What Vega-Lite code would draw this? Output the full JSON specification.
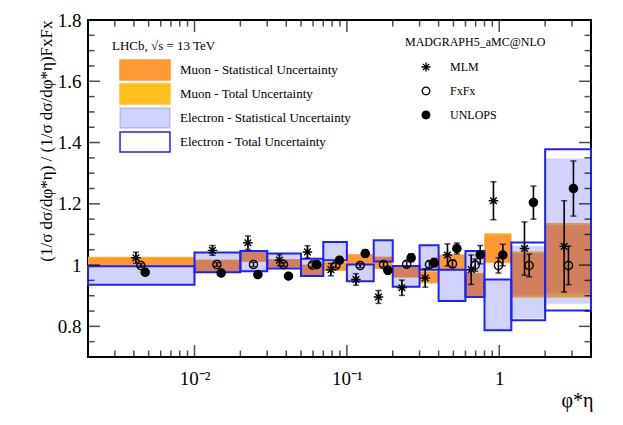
{
  "$schema": "https://vega.github.io/schema/vega-lite/v6.json",
  "width": 503,
  "height": 337,
  "autosize": {"type": "none"},
  "padding": {"left": 88, "top": 20, "right": 32, "bottom": 68},
  "config": {
    "view": {"stroke": "black", "strokeWidth": 2},
    "font": "Liberation Serif",
    "axis": {
      "grid": false,
      "domain": false,
      "ticks": false,
      "labelColor": "black",
      "titleColor": "black",
      "labelFont": "Liberation Serif",
      "titleFont": "Liberation Serif",
      "titleFontWeight": "normal"
    },
    "legend": {
      "titleFont": "Liberation Serif",
      "labelFont": "Liberation Serif",
      "titleFontWeight": "normal",
      "labelFontWeight": "normal",
      "titleColor": "black",
      "labelColor": "black",
      "labelLimit": 300,
      "padding": 0
    }
  },
  "datasets": {
    "bands": [
      {"lo": 0.002, "hi": 0.01, "band": "mu_tot", "ylo": 0.994, "yhi": 1.027},
      {"lo": 0.002, "hi": 0.01, "band": "mu_stat", "ylo": 0.996, "yhi": 1.025},
      {"lo": 0.002, "hi": 0.01, "band": "e_stat", "ylo": 0.936, "yhi": 0.996},
      {"lo": 0.002, "hi": 0.01, "band": "e_tot", "ylo": 0.936, "yhi": 0.996},
      {"lo": 0.01, "hi": 0.02, "band": "mu_tot", "ylo": 0.975, "yhi": 1.018},
      {"lo": 0.01, "hi": 0.02, "band": "mu_stat", "ylo": 0.977, "yhi": 1.016},
      {"lo": 0.01, "hi": 0.02, "band": "e_stat", "ylo": 0.977, "yhi": 1.041},
      {"lo": 0.01, "hi": 0.02, "band": "e_tot", "ylo": 0.977, "yhi": 1.041},
      {"lo": 0.02, "hi": 0.03, "band": "mu_tot", "ylo": 1.010, "yhi": 1.045},
      {"lo": 0.02, "hi": 0.03, "band": "mu_stat", "ylo": 1.012, "yhi": 1.043},
      {"lo": 0.02, "hi": 0.03, "band": "e_stat", "ylo": 0.980, "yhi": 1.046},
      {"lo": 0.02, "hi": 0.03, "band": "e_tot", "ylo": 0.980, "yhi": 1.046},
      {"lo": 0.03, "hi": 0.05, "band": "mu_tot", "ylo": 0.992, "yhi": 1.020},
      {"lo": 0.03, "hi": 0.05, "band": "mu_stat", "ylo": 0.994, "yhi": 1.018},
      {"lo": 0.03, "hi": 0.05, "band": "e_stat", "ylo": 0.989, "yhi": 1.038},
      {"lo": 0.03, "hi": 0.05, "band": "e_tot", "ylo": 0.989, "yhi": 1.038},
      {"lo": 0.05, "hi": 0.07, "band": "mu_tot", "ylo": 0.964, "yhi": 1.002},
      {"lo": 0.05, "hi": 0.07, "band": "mu_stat", "ylo": 0.966, "yhi": 1.000},
      {"lo": 0.05, "hi": 0.07, "band": "e_stat", "ylo": 0.964, "yhi": 1.021},
      {"lo": 0.05, "hi": 0.07, "band": "e_tot", "ylo": 0.964, "yhi": 1.021},
      {"lo": 0.07, "hi": 0.1, "band": "mu_tot", "ylo": 0.981, "yhi": 1.011},
      {"lo": 0.07, "hi": 0.1, "band": "mu_stat", "ylo": 0.983, "yhi": 1.009},
      {"lo": 0.07, "hi": 0.1, "band": "e_stat", "ylo": 1.016, "yhi": 1.075},
      {"lo": 0.07, "hi": 0.1, "band": "e_tot", "ylo": 1.016, "yhi": 1.075},
      {"lo": 0.1, "hi": 0.15, "band": "mu_tot", "ylo": 1.000, "yhi": 1.036},
      {"lo": 0.1, "hi": 0.15, "band": "mu_stat", "ylo": 1.002, "yhi": 1.034},
      {"lo": 0.1, "hi": 0.15, "band": "e_stat", "ylo": 0.947, "yhi": 1.002},
      {"lo": 0.1, "hi": 0.15, "band": "e_tot", "ylo": 0.947, "yhi": 1.002},
      {"lo": 0.15, "hi": 0.2, "band": "mu_tot", "ylo": 0.987, "yhi": 1.028},
      {"lo": 0.15, "hi": 0.2, "band": "mu_stat", "ylo": 0.989, "yhi": 1.026},
      {"lo": 0.15, "hi": 0.2, "band": "e_stat", "ylo": 1.012, "yhi": 1.081},
      {"lo": 0.15, "hi": 0.2, "band": "e_tot", "ylo": 1.012, "yhi": 1.081},
      {"lo": 0.2, "hi": 0.3, "band": "mu_tot", "ylo": 0.959, "yhi": 0.999},
      {"lo": 0.2, "hi": 0.3, "band": "mu_stat", "ylo": 0.961, "yhi": 0.997},
      {"lo": 0.2, "hi": 0.3, "band": "e_stat", "ylo": 0.929, "yhi": 0.997},
      {"lo": 0.2, "hi": 0.3, "band": "e_tot", "ylo": 0.929, "yhi": 0.997},
      {"lo": 0.3, "hi": 0.4, "band": "mu_tot", "ylo": 0.940, "yhi": 0.980},
      {"lo": 0.3, "hi": 0.4, "band": "mu_stat", "ylo": 0.942, "yhi": 0.978},
      {"lo": 0.3, "hi": 0.4, "band": "e_stat", "ylo": 0.985, "yhi": 1.065},
      {"lo": 0.3, "hi": 0.4, "band": "e_tot", "ylo": 0.985, "yhi": 1.065},
      {"lo": 0.4, "hi": 0.6, "band": "mu_tot", "ylo": 0.983, "yhi": 1.035},
      {"lo": 0.4, "hi": 0.6, "band": "mu_stat", "ylo": 0.985, "yhi": 1.033},
      {"lo": 0.4, "hi": 0.6, "band": "e_stat", "ylo": 0.883, "yhi": 0.985},
      {"lo": 0.4, "hi": 0.6, "band": "e_tot", "ylo": 0.883, "yhi": 0.985},
      {"lo": 0.6, "hi": 0.8, "band": "mu_tot", "ylo": 0.893, "yhi": 0.975},
      {"lo": 0.6, "hi": 0.8, "band": "mu_stat", "ylo": 0.896, "yhi": 0.972},
      {"lo": 0.6, "hi": 0.8, "band": "e_stat", "ylo": 0.896, "yhi": 1.046},
      {"lo": 0.6, "hi": 0.8, "band": "e_tot", "ylo": 0.896, "yhi": 1.046},
      {"lo": 0.8, "hi": 1.2, "band": "mu_tot", "ylo": 1.006, "yhi": 1.104},
      {"lo": 0.8, "hi": 1.2, "band": "mu_stat", "ylo": 1.010, "yhi": 1.100},
      {"lo": 0.8, "hi": 1.2, "band": "e_stat", "ylo": 0.787, "yhi": 0.953},
      {"lo": 0.8, "hi": 1.2, "band": "e_tot", "ylo": 0.787, "yhi": 0.953},
      {"lo": 1.2, "hi": 2, "band": "mu_tot", "ylo": 0.894, "yhi": 1.044},
      {"lo": 1.2, "hi": 2, "band": "mu_stat", "ylo": 0.901, "yhi": 1.038},
      {"lo": 1.2, "hi": 2, "band": "e_stat", "ylo": 0.826, "yhi": 1.062},
      {"lo": 1.2, "hi": 2, "band": "e_tot", "ylo": 0.820, "yhi": 1.074},
      {"lo": 2, "hi": 4, "band": "mu_tot", "ylo": 0.894, "yhi": 1.137},
      {"lo": 2, "hi": 4, "band": "mu_stat", "ylo": 0.907, "yhi": 1.130},
      {"lo": 2, "hi": 4, "band": "e_stat", "ylo": 0.874, "yhi": 1.348},
      {"lo": 2, "hi": 4, "band": "e_tot", "ylo": 0.852, "yhi": 1.378}
    ],
    "points": [
      {"model": "MLM", "phi": 0.004125, "r": 1.024, "lo": 1.006, "hi": 1.042},
      {"model": "FxFx", "phi": 0.004447, "r": 0.999, "lo": 0.993, "hi": 1.005},
      {"model": "UNLOPS", "phi": 0.004748, "r": 0.977, "lo": 0.970, "hi": 0.984},
      {"model": "MLM", "phi": 0.01312, "r": 1.048, "lo": 1.032, "hi": 1.064},
      {"model": "FxFx", "phi": 0.01403, "r": 1.002, "lo": 0.996, "hi": 1.008},
      {"model": "UNLOPS", "phi": 0.01497, "r": 0.974, "lo": 0.967, "hi": 0.981},
      {"model": "MLM", "phi": 0.0224, "r": 1.073, "lo": 1.051, "hi": 1.095},
      {"model": "FxFx", "phi": 0.02438, "r": 1.002, "lo": 0.995, "hi": 1.009},
      {"model": "UNLOPS", "phi": 0.02606, "r": 0.969, "lo": 0.961, "hi": 0.977},
      {"model": "MLM", "phi": 0.03612, "r": 1.016, "lo": 0.998, "hi": 1.034},
      {"model": "FxFx", "phi": 0.03837, "r": 1.002, "lo": 0.996, "hi": 1.008},
      {"model": "UNLOPS", "phi": 0.04138, "r": 0.964, "lo": 0.957, "hi": 0.971},
      {"model": "MLM", "phi": 0.05513, "r": 1.043, "lo": 1.023, "hi": 1.063},
      {"model": "FxFx", "phi": 0.05944, "r": 1.000, "lo": 0.993, "hi": 1.007},
      {"model": "UNLOPS", "phi": 0.06353, "r": 1.002, "lo": 0.994, "hi": 1.010},
      {"model": "MLM", "phi": 0.07853, "r": 0.985, "lo": 0.965, "hi": 1.005},
      {"model": "FxFx", "phi": 0.08469, "r": 0.999, "lo": 0.992, "hi": 1.006},
      {"model": "UNLOPS", "phi": 0.08941, "r": 1.016, "lo": 1.006, "hi": 1.026},
      {"model": "MLM", "phi": 0.1146, "r": 0.953, "lo": 0.934, "hi": 0.972},
      {"model": "FxFx", "phi": 0.1223, "r": 0.999, "lo": 0.992, "hi": 1.006},
      {"model": "UNLOPS", "phi": 0.1319, "r": 1.038, "lo": 1.026, "hi": 1.050},
      {"model": "MLM", "phi": 0.1612, "r": 0.896, "lo": 0.875, "hi": 0.917},
      {"model": "FxFx", "phi": 0.1739, "r": 1.002, "lo": 0.994, "hi": 1.010},
      {"model": "UNLOPS", "phi": 0.1858, "r": 0.983, "lo": 0.971, "hi": 0.995},
      {"model": "MLM", "phi": 0.2296, "r": 0.926, "lo": 0.901, "hi": 0.951},
      {"model": "FxFx", "phi": 0.2469, "r": 1.003, "lo": 0.994, "hi": 1.012},
      {"model": "UNLOPS", "phi": 0.2642, "r": 1.024, "lo": 1.011, "hi": 1.037},
      {"model": "MLM", "phi": 0.3265, "r": 0.958, "lo": 0.928, "hi": 0.988},
      {"model": "FxFx", "phi": 0.3483, "r": 1.002, "lo": 0.992, "hi": 1.012},
      {"model": "UNLOPS", "phi": 0.3739, "r": 1.008, "lo": 0.994, "hi": 1.022},
      {"model": "MLM", "phi": 0.4571, "r": 1.033, "lo": 0.997, "hi": 1.069},
      {"model": "FxFx", "phi": 0.4931, "r": 1.004, "lo": 0.992, "hi": 1.016},
      {"model": "UNLOPS", "phi": 0.5269, "r": 1.054, "lo": 1.036, "hi": 1.072},
      {"model": "MLM", "phi": 0.6542, "r": 0.985, "lo": 0.937, "hi": 1.033},
      {"model": "FxFx", "phi": 0.695, "r": 1.000, "lo": 0.980, "hi": 1.020},
      {"model": "UNLOPS", "phi": 0.7496, "r": 1.034, "lo": 1.004, "hi": 1.064},
      {"model": "MLM", "phi": 0.9161, "r": 1.210, "lo": 1.148, "hi": 1.272},
      {"model": "FxFx", "phi": 0.988, "r": 0.999, "lo": 0.974, "hi": 1.024},
      {"model": "UNLOPS", "phi": 1.056, "r": 1.033, "lo": 0.998, "hi": 1.068},
      {"model": "MLM", "phi": 1.464, "r": 1.054, "lo": 0.967, "hi": 1.141},
      {"model": "FxFx", "phi": 1.571, "r": 0.999, "lo": 0.962, "hi": 1.036},
      {"model": "UNLOPS", "phi": 1.676, "r": 1.204, "lo": 1.150, "hi": 1.258},
      {"model": "MLM", "phi": 2.666, "r": 1.061, "lo": 0.912, "hi": 1.210},
      {"model": "FxFx", "phi": 2.846, "r": 0.999, "lo": 0.936, "hi": 1.062},
      {"model": "UNLOPS", "phi": 3.068, "r": 1.250, "lo": 1.160, "hi": 1.340}
    ],
    "xticks": [
      {"v": 0.003, "kind": "minor"}, {"v": 0.004, "kind": "minor"}, {"v": 0.005, "kind": "minor"},
      {"v": 0.006, "kind": "minor"}, {"v": 0.007, "kind": "minor"}, {"v": 0.008, "kind": "minor"},
      {"v": 0.009, "kind": "minor"}, {"v": 0.01, "kind": "major"},
      {"v": 0.02, "kind": "minor"}, {"v": 0.03, "kind": "minor"}, {"v": 0.04, "kind": "minor"},
      {"v": 0.05, "kind": "minor"}, {"v": 0.06, "kind": "minor"}, {"v": 0.07, "kind": "minor"},
      {"v": 0.08, "kind": "minor"}, {"v": 0.09, "kind": "minor"}, {"v": 0.1, "kind": "major"},
      {"v": 0.2, "kind": "minor"}, {"v": 0.3, "kind": "minor"}, {"v": 0.4, "kind": "minor"},
      {"v": 0.5, "kind": "minor"}, {"v": 0.6, "kind": "minor"}, {"v": 0.7, "kind": "minor"},
      {"v": 0.8, "kind": "minor"}, {"v": 0.9, "kind": "minor"}, {"v": 1, "kind": "major"},
      {"v": 2, "kind": "minor"}, {"v": 3, "kind": "minor"}
    ],
    "yticks": [
      {"v": 0.75, "kind": "minor"}, {"v": 0.8, "kind": "major"}, {"v": 0.85, "kind": "minor"},
      {"v": 0.9, "kind": "minor"}, {"v": 0.95, "kind": "minor"}, {"v": 1, "kind": "major"},
      {"v": 1.05, "kind": "minor"}, {"v": 1.1, "kind": "minor"}, {"v": 1.15, "kind": "minor"},
      {"v": 1.2, "kind": "major"}, {"v": 1.25, "kind": "minor"}, {"v": 1.3, "kind": "minor"},
      {"v": 1.35, "kind": "minor"}, {"v": 1.4, "kind": "major"}, {"v": 1.45, "kind": "minor"},
      {"v": 1.5, "kind": "minor"}, {"v": 1.55, "kind": "minor"}, {"v": 1.6, "kind": "major"},
      {"v": 1.65, "kind": "minor"}, {"v": 1.7, "kind": "minor"}, {"v": 1.75, "kind": "minor"}
    ]
  },
  "layer": [
    {
      "data": {"name": "bands"},
      "encoding": {
        "x": {
          "field": "lo",
          "type": "quantitative",
          "scale": {"type": "log", "domain": [0.002, 4], "nice": false},
          "axis": {
            "orient": "bottom",
            "values": [0.01, 0.1, 1],
            "labelExpr": "datum.value == 0.01 ? '10⁻²' : datum.value == 0.1 ? '10⁻¹' : '1'",
            "labelFontSize": 19,
            "labelPadding": 12,
            "labelFlush": false,
            "labelOverlap": false,
            "title": "φ*η",
            "titleFontSize": 20,
            "titleX": 505,
            "titleY": 49,
            "titleAlign": "right",
            "titleBaseline": "alphabetic"
          }
        },
        "x2": {"field": "hi"},
        "y": {
          "field": "ylo",
          "type": "quantitative",
          "scale": {"domain": [0.7, 1.8], "nice": false, "zero": false},
          "axis": {
            "orient": "left",
            "values": [0.8, 1, 1.2, 1.4, 1.6, 1.8],
            "labelExpr": "format(datum.value, '~g')",
            "labelFontSize": 19,
            "labelPadding": 7,
            "labelOverlap": false,
            "labelFlush": false,
            "title": "(1/σ dσ/dφ*η) / (1/σ dσ/dφ*η)FxFx",
            "titleFontSize": 17,
            "titleAngle": -90,
            "titleX": -42,
            "titleY": 0,
            "titleAlign": "right",
            "titleBaseline": "middle"
          }
        },
        "y2": {"field": "yhi"},
        "fill": {
          "field": "band",
          "type": "nominal",
          "scale": {
            "domain": ["mu_stat", "mu_tot", "e_stat", "e_tot"],
            "range": ["#ff9933", "#ffbf1f", "rgba(32,32,255,0.2)", "rgba(255,255,255,0)"]
          },
          "legend": {
            "orient": "none",
            "legendX": 24,
            "legendY": 20,
            "title": "LHCb, √s = 13 TeV",
            "titleFontSize": 13,
            "titlePadding": 5,
            "labelFontSize": 13,
            "symbolType": "M-2.22,-0.89H2.22V0.89H-2.22Z",
            "symbolSize": 506,
            "symbolStrokeWidth": 1.5,
            "symbolOffset": 21,
            "labelOffset": 23,
            "clipHeight": 24,
            "rowPadding": 0,
            "labelExpr": "{'mu_stat': 'Muon - Statistical Uncertainty', 'mu_tot': 'Muon - Total Uncertainty', 'e_stat': 'Electron - Statistical Uncertainty', 'e_tot': 'Electron - Total Uncertainty'}[datum.label]"
          }
        },
        "stroke": {
          "field": "band",
          "type": "nominal",
          "scale": {
            "domain": ["mu_stat", "mu_tot", "e_stat", "e_tot"],
            "range": ["#ff9933", "#ffbf1f", "rgba(32,32,255,0.2)", "#2020ff"]
          },
          "legend": {
            "orient": "none",
            "legendX": 24,
            "legendY": 20,
            "title": "LHCb, √s = 13 TeV",
            "titleFontSize": 13,
            "titlePadding": 5,
            "labelFontSize": 13,
            "symbolType": "M-2.22,-0.89H2.22V0.89H-2.22Z",
            "symbolSize": 506,
            "symbolStrokeWidth": 1.5,
            "symbolOffset": 21,
            "labelOffset": 23,
            "clipHeight": 24,
            "rowPadding": 0,
            "labelExpr": "{'mu_stat': 'Muon - Statistical Uncertainty', 'mu_tot': 'Muon - Total Uncertainty', 'e_stat': 'Electron - Statistical Uncertainty', 'e_tot': 'Electron - Total Uncertainty'}[datum.label]"
          }
        }
      },
      "layer": [
        {"transform": [{"filter": "datum.band == 'mu_tot'"}], "mark": {"type": "rect", "strokeWidth": 0}},
        {"transform": [{"filter": "datum.band == 'mu_stat'"}], "mark": {"type": "rect", "strokeWidth": 0}},
        {"transform": [{"filter": "datum.band == 'e_stat'"}], "mark": {"type": "rect", "strokeWidth": 0}},
        {"transform": [{"filter": "datum.band == 'e_tot'"}], "mark": {"type": "rect", "strokeWidth": 2}}
      ]
    },
    {
      "data": {"name": "points"},
      "encoding": {
        "x": {"field": "phi", "type": "quantitative"}
      },
      "layer": [
        {
          "mark": {"type": "rule", "color": "black", "strokeWidth": 1.6},
          "encoding": {
            "y": {"field": "lo", "type": "quantitative"},
            "y2": {"field": "hi"}
          }
        },
        {
          "mark": {"type": "tick", "orient": "horizontal", "color": "black", "size": 6, "thickness": 1.5},
          "encoding": {"y": {"field": "lo", "type": "quantitative"}}
        },
        {
          "mark": {"type": "tick", "orient": "horizontal", "color": "black", "size": 6, "thickness": 1.5},
          "encoding": {"y": {"field": "hi", "type": "quantitative"}}
        },
        {
          "mark": {"type": "point", "filled": true, "color": "black", "strokeWidth": 0, "size": 90, "opacity": 1},
          "encoding": {
            "y": {"field": "r", "type": "quantitative"},
            "shape": {
              "field": "model",
              "type": "nominal",
              "scale": {
                "domain": ["MLM", "FxFx", "UNLOPS"],
                "range": [
                  "M-1,-0.15H1V0.15H-1ZM-0.15,-1H0.15V1H-0.15ZM-0.594,-0.806L0.806,0.594L0.594,0.806L-0.806,-0.594ZM-0.806,0.594L0.594,-0.806L0.806,-0.594L-0.594,0.806Z",
                  "M1,0A1,1,0,1,1,-1,0A1,1,0,1,1,1,0ZM0.72,0A0.72,0.72,0,1,0,-0.72,0A0.72,0.72,0,1,0,0.72,0Z",
                  "M1,0A1,1,0,1,1,-1,0A1,1,0,1,1,1,0Z"
                ]
              },
              "legend": {
                "orient": "none",
                "legendX": 317,
                "legendY": 17,
                "title": "MADGRAPH5_aMC@NLO",
                "titleFontSize": 12,
                "titlePadding": 6,
                "labelFontSize": 12,
                "symbolSize": 80,
                "symbolFillColor": "black",
                "symbolStrokeWidth": 0,
                "symbolOffset": 15,
                "labelOffset": 18,
                "clipHeight": 24,
                "rowPadding": 0
              }
            }
          }
        }
      ]
    },
    {
      "data": {"name": "xticks"},
      "mark": {"type": "tick", "orient": "vertical", "color": "black", "thickness": 1.5, "clip": true},
      "encoding": {
        "x": {"field": "v", "type": "quantitative"},
        "y": {"datum": 0.7, "type": "quantitative"},
        "size": {"field": "kind", "type": "nominal", "scale": {"domain": ["major", "minor"], "range": [24, 13]}, "legend": null}
      }
    },
    {
      "data": {"name": "xticks"},
      "mark": {"type": "tick", "orient": "vertical", "color": "black", "thickness": 1.5, "clip": true},
      "encoding": {
        "x": {"field": "v", "type": "quantitative"},
        "y": {"datum": 1.8, "type": "quantitative"},
        "size": {"field": "kind", "type": "nominal", "scale": {"domain": ["major", "minor"], "range": [24, 13]}, "legend": null}
      }
    },
    {
      "data": {"name": "yticks"},
      "mark": {"type": "tick", "orient": "horizontal", "color": "black", "thickness": 1.5, "clip": true},
      "encoding": {
        "y": {"field": "v", "type": "quantitative"},
        "x": {"datum": 0.002, "type": "quantitative"},
        "size": {"field": "kind", "type": "nominal", "scale": {"domain": ["major", "minor"], "range": [24, 13]}, "legend": null}
      }
    },
    {
      "data": {"name": "yticks"},
      "mark": {"type": "tick", "orient": "horizontal", "color": "black", "thickness": 1.5, "clip": true},
      "encoding": {
        "y": {"field": "v", "type": "quantitative"},
        "x": {"datum": 4, "type": "quantitative"},
        "size": {"field": "kind", "type": "nominal", "scale": {"domain": ["major", "minor"], "range": [24, 13]}, "legend": null}
      }
    }
  ],
  "resolve": {
    "scale": {"fill": "independent", "stroke": "independent"}
  }
}
